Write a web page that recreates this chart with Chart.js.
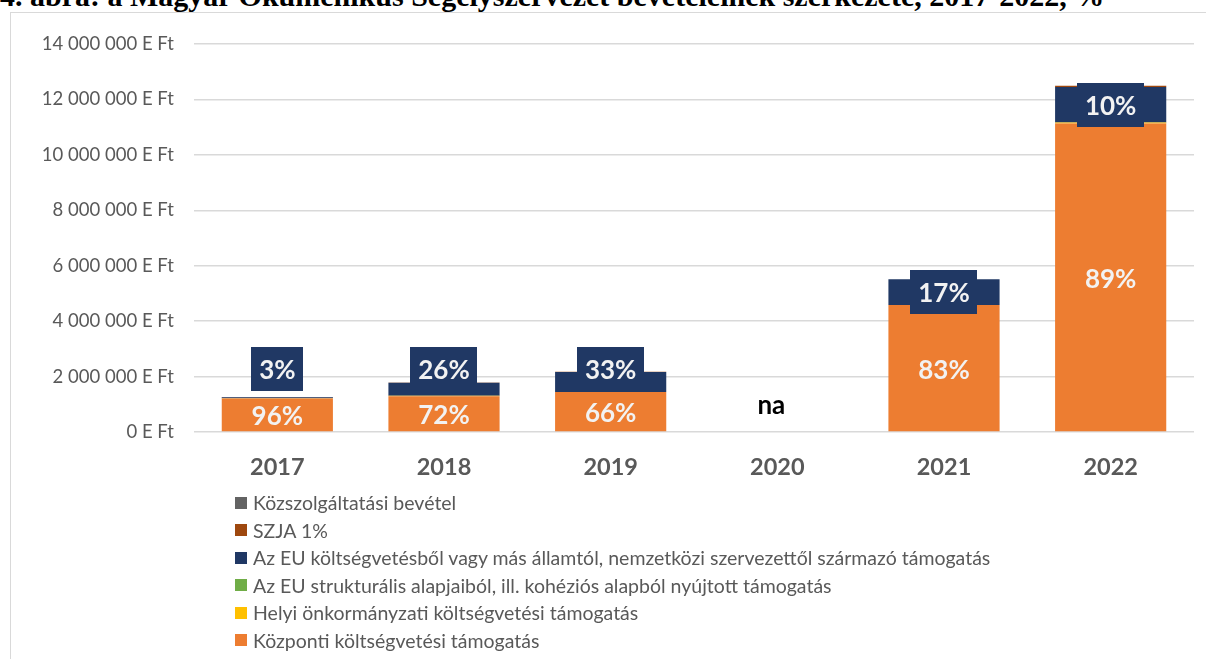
<!DOCTYPE html>
<html>
<head>
<meta charset="utf-8">
<script src="https://cdn.jsdelivr.net/npm/chart.js@4.4.1/dist/chart.umd.min.js"></script>
<style>
  html, body { margin:0; padding:0; background:#fff; width:1206px; height:659px; overflow:hidden; position:relative; }
  #title { position:absolute; left:0; top:-21px; white-space:nowrap; font-family:"Liberation Serif", "Times New Roman", serif; font-weight:bold; font-size:30px; color:#000; }
  #frame { position:absolute; left:10px; top:12px; width:1300px; height:800px; border:1.5px solid #d9d9d9; box-sizing:border-box; background:#fff; }
  #c { position:absolute; left:0; top:0; }
  #legend { position:absolute; left:235px; top:489px; font-family:Lato, "Noto Sans", sans-serif; font-size:19.5px; color:#595959; }
  .li { height:27.5px; line-height:27.5px; display:flex; align-items:center; white-space:nowrap; }
  .sw { width:12px; height:12px; margin-right:6px; flex:none; }
</style>
</head>
<body>
<div id="title">4. ábra: a Magyar  Ökumenikus Segélyszervezet bevételeinek szerkezete, 2017-2022, %</div>
<div id="frame"></div>
<canvas id="c" width="1206" height="492"></canvas>
<div id="legend"></div>
<script>
// ---- data (E Ft) ----
const years = ['2017', '2018', '2019', '2020', '2021', '2022'];
const kozpontiKoltsegvetesi = [1210000, 1290000, 1440000, null, 4580000, 11130000];
const helyiOnkormanyzati   = [5000, 20000, 5000, null, 5000, 40000];
const euStrukturalis       = [0, 0, 0, null, 0, 0];
const euKoltsegvetes       = [40000, 470000, 720000, null, 930000, 1280000];
const szja1                = [5000, 10000, 5000, null, 0, 40000];
const kozszolgaltatasi     = [0, 0, 0, null, 0, 0];
const yTicks = [0, 2000000, 4000000, 6000000, 8000000, 10000000, 12000000, 14000000];
const seriesNames = [
  'Központi költségvetési támogatás',
  'Helyi önkormányzati költségvetési támogatás',
  'Az EU strukturális alapjaiból, ill. kohéziós alapból nyújtott támogatás',
  'Az EU költségvetésből vagy más államtól, nemzetközi szervezettől származó támogatás',
  'SZJA 1%',
  'Közszolgáltatási bevétel'
];
const seriesColors = ['#ED7D31', '#FFC000', '#70AD47', '#203864', '#9E480E', '#636363'];
const seriesData = [kozpontiKoltsegvetesi, helyiOnkormanyzati, euStrukturalis, euKoltsegvetes, szja1, kozszolgaltatasi];

const FONT = 'Lato, "Noto Sans", sans-serif';

function fmt(v) {
  return String(v).replace(/\B(?=(\d{3})+(?!\d))/g, ' ') + ' E Ft';
}

const labelPlugin = {
  id: 'pctLabels',
  afterDatasetsDraw(chart) {
    const ctx = chart.ctx;
    const ys = chart.scales.y;
    const xs = chart.scales.x;
    const zeroY = ys.getPixelForValue(0);
    ctx.save();
    ctx.font = 'bold 26px ' + FONT;
    ctx.textAlign = 'center';
    ctx.textBaseline = 'middle';
    years.forEach((yr, i) => {
      const vals = chart.data.datasets.map(d => d.data[i]);
      if (vals.every(v => v === null)) {
        ctx.fillStyle = '#000';
        ctx.fillText('na', xs.getPixelForValue(i) - 6, zeroY - 26);
        return;
      }
      const total = vals.reduce((a, b) => a + (b || 0), 0);
      // orange
      const m0 = chart.getDatasetMeta(0).data[i];
      const p0 = Math.round(vals[0] / total * 100) + '%';
      ctx.fillStyle = '#F2F2F2';
      ctx.fillText(p0, m0.x, (m0.y + m0.base) / 2 + 2);
      // navy
      const m3 = chart.getDatasetMeta(3).data[i];
      const p3 = Math.round(vals[3] / total * 100) + '%';
      const cy = Math.min((m3.y + m3.base) / 2, zeroY - 63);
      const tw = ctx.measureText(p3).width;
      const bw = tw + 16, bh = 44;
      ctx.fillStyle = '#203864';
      ctx.fillRect(Math.round(m3.x - bw / 2), Math.round(cy - bh / 2), Math.round(bw), bh);
      ctx.fillStyle = '#F2F2F2';
      ctx.fillText(p3, m3.x, cy + 2);
    });
    ctx.restore();
  }
};

const chart = new Chart(document.getElementById('c'), {
  type: 'bar',
  data: {
    labels: years,
    datasets: seriesData.map((d, k) => ({
      label: seriesNames[k],
      data: d,
      backgroundColor: seriesColors[k],
      borderWidth: 0,
      categoryPercentage: 0.667,
      barPercentage: 1
    }))
  },
  options: {
    responsive: false,
    animation: false,
    devicePixelRatio: 1,
    layout: { padding: { top: 44, right: 12, bottom: 0, left: 0 } },
    plugins: { legend: { display: false }, tooltip: { enabled: false } },
    scales: {
      x: {
        stacked: true,
        grid: { display: false, drawTicks: false },
        border: { display: false },
        ticks: { color: '#595959', font: { family: FONT, size: 23.5, weight: 'bold' }, padding: 21 },
        afterFit(s) { s.height = 60; }
      },
      y: {
        stacked: true,
        min: 0, max: 14000000,
        afterBuildTicks(s) { s.ticks = yTicks.map(v => ({ value: v })); },
        ticks: { color: '#595959', font: { family: FONT, size: 18.5 }, padding: 20, callback: v => fmt(v) },
        grid: { color: '#d9d9d9', lineWidth: 1.5, drawTicks: false },
        border: { display: false },
        afterFit(s) { s.width = 194; }
      }
    }
  },
  plugins: [labelPlugin]
});

// HTML legend (reverse order, from the chart's datasets)
const leg = document.getElementById('legend');
chart.data.datasets.slice().reverse().forEach(ds => {
  const row = document.createElement('div');
  row.className = 'li';
  const sw = document.createElement('span');
  sw.className = 'sw';
  sw.style.background = ds.backgroundColor;
  const tx = document.createElement('span');
  tx.textContent = ds.label;
  row.appendChild(sw); row.appendChild(tx);
  leg.appendChild(row);
});
</script>
</body>
</html>
